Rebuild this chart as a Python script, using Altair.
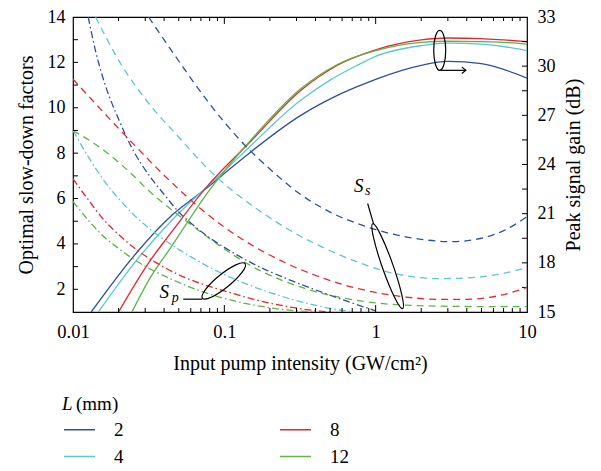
import altair as alt
import pandas as pd

FONT = "Liberation Serif"
W, H = 454, 295

L_LABELS = ["2", "4", "8", "12"]
COLORS = ["#2e4f9e", "#5bc5da", "#e8262b", "#5cb445"]

# ---- Peak signal gain (dB), solid lines, right axis ----
GAIN_X_2 = [0.0132, 0.0264, 0.045, 0.075, 0.1, 0.142, 0.318, 0.6, 1, 2, 3, 5, 7, 10]
GAIN_Y_2 = [15, 18.63, 20.9, 22.5, 23.45, 24.6, 26.98, 28.35, 29.2, 30.05, 30.29, 30.15, 29.8, 29.27]
GAIN_X_4 = [0.0147, 0.0265, 0.045, 0.075, 0.1, 0.142, 0.318, 0.5, 0.755, 1, 2, 3, 5, 7, 10]
GAIN_Y_4 = [15, 18.2, 20.6, 22.55, 23.6, 24.95, 27.9, 29.15, 30.05, 30.6, 31.25, 31.4, 31.35, 31.2, 30.95]
GAIN_X_8 = [0.02, 0.0316, 0.045, 0.0767, 0.1, 0.142, 0.318, 0.571, 1, 2, 3, 5, 7, 10]
GAIN_Y_8 = [15, 18.0, 19.9, 22.65, 23.8, 25.2, 28.5, 30.1, 31.0, 31.6, 31.72, 31.68, 31.6, 31.5]
GAIN_X_12 = [0.0245, 0.0324, 0.044, 0.0807, 0.1, 0.142, 0.318, 0.571, 1, 2, 3, 5, 7, 10]
GAIN_Y_12 = [15, 17.1, 18.9, 22.5, 23.6, 25.25, 28.6, 30.15, 30.95, 31.45, 31.52, 31.5, 31.45, 31.35]

# ---- S_s optimal slow-down factor, dashed, left axis ----
SS_X_2 = [0.0316, 0.0501, 0.0794, 0.126, 0.2, 0.316, 0.501, 0.794, 1.26, 2.0, 3.16, 5.01, 7.08, 10]
SS_Y_2 = [14, 12.05, 10.2, 8.6, 7.3, 6.2, 5.4, 4.85, 4.45, 4.2, 4.1, 4.25, 4.6, 5.2]
SS_X_4 = [0.0141, 0.02, 0.0316, 0.0501, 0.0794, 0.126, 0.2, 0.316, 0.501, 0.794, 1.0,
          1.58, 2.51, 3.98, 6.31, 10]
SS_Y_4 = [14, 12.1, 10.2, 8.7, 7.25, 6.1, 5.15, 4.35, 3.7, 3.15, 2.92, 2.6, 2.47, 2.5,
          2.65, 2.95]
SS_X_8 = [0.01, 0.0158, 0.0251, 0.0398, 0.0631, 0.1, 0.158, 0.251, 0.398, 0.631, 1.0,
          1.58, 2.51, 3.98, 6.31, 10]
SS_Y_8 = [11.26, 9.82, 8.4, 7.04, 5.8, 4.74, 3.88, 3.18, 2.62, 2.18, 1.86, 1.66, 1.56,
          1.56, 1.7, 2.08]
SS_X_12 = [0.01, 0.0126, 0.0158, 0.02, 0.0251, 0.0316, 0.0398, 0.0501, 0.0631, 0.0794, 0.1,
           0.158, 0.251, 0.398, 0.631, 1.0, 1.58, 2.51, 5.01, 10]
SS_Y_12 = [8.99, 8.6, 8.15, 7.6, 7.0, 6.35, 5.78, 5.25, 4.75, 4.25, 3.78, 2.95, 2.35,
           1.9, 1.6, 1.4, 1.3, 1.26, 1.24, 1.24]

# ---- S_p optimal slow-down factor, dash-dot, left axis ----
SP_X_2 = [0.0126, 0.0141, 0.0158, 0.02, 0.0251, 0.0316, 0.0398, 0.0501, 0.0631, 0.0794, 0.1,
          0.126, 0.158, 0.251, 0.398, 0.631, 1.0]
SP_Y_2 = [14, 12.5, 11.3, 9.5, 8.1, 7.05, 6.2, 5.4, 4.8, 4.28, 3.85, 3.45, 3.1, 2.5,
          1.98, 1.5, 1.05]
SP_X_4 = [0.01, 0.0126, 0.0158, 0.02, 0.0251, 0.0316, 0.0398, 0.0501, 0.0631, 0.0794, 0.1,
          0.158, 0.251, 0.398, 0.631, 0.794]
SP_Y_4 = [9.0, 7.85, 6.85, 6.0, 5.3, 4.7, 4.2, 3.75, 3.35, 2.98, 2.65, 2.1, 1.65, 1.3,
          1.05, 1.0]
SP_X_8 = [0.01, 0.0126, 0.0158, 0.02, 0.0251, 0.0316, 0.0398, 0.0501, 0.0631, 0.0794, 0.1,
          0.158, 0.251, 0.398, 0.501]
SP_Y_8 = [6.87, 5.95, 5.1, 4.42, 3.85, 3.38, 2.98, 2.64, 2.36, 2.13, 1.93, 1.55, 1.26,
          1.06, 1.0]
SP_X_12 = [0.01, 0.0126, 0.0158, 0.02, 0.0251, 0.0316, 0.0398, 0.0501, 0.0631, 0.0794, 0.1,
           0.158, 0.251, 0.398]
SP_Y_12 = [5.87, 5.05, 4.35, 3.8, 3.33, 2.93, 2.6, 2.3, 2.03, 1.8, 1.6, 1.3, 1.1, 1.0]

# ---- axis ticks ----
X_LABELS = [0.01, 0.1, 1, 10]
LEFT_LABELS = [2, 4, 6, 8, 10, 12, 14]
RIGHT_LABELS = [15, 18, 21, 24, 27, 30, 33]
LEFT_TICKS = [2, 3, 4, 5, 6, 7, 8, 9, 10, 11, 12, 13]
RIGHT_TICKS = [16.5, 18, 19.5, 21, 22.5, 24, 25.5, 27, 28.5, 30, 31.5]
X_MAJOR = [0.1, 1]
X_MINOR = [0.02, 0.03, 0.04, 0.05, 0.06, 0.07, 0.08, 0.09,
           0.2, 0.3, 0.4, 0.5, 0.6, 0.7, 0.8, 0.9,
           2, 3, 4, 5, 6, 7, 8, 9]


def series(xs_list, ys_list, key):
    rows = []
    for lab, xs, ys in zip(L_LABELS, xs_list, ys_list):
        for x, y in zip(xs, ys):
            rows.append({"x": x, key: y, "L": lab})
    return pd.DataFrame(rows)


gain_df = series([GAIN_X_2, GAIN_X_4, GAIN_X_8, GAIN_X_12],
                 [GAIN_Y_2, GAIN_Y_4, GAIN_Y_8, GAIN_Y_12], "g")
ss_df = series([SS_X_2, SS_X_4, SS_X_8, SS_X_12],
               [SS_Y_2, SS_Y_4, SS_Y_8, SS_Y_12], "v")
sp_df = series([SP_X_2, SP_X_4, SP_X_8, SP_X_12],
               [SP_Y_2, SP_Y_4, SP_Y_8, SP_Y_12], "v")

x_enc = alt.X(
    "x:Q",
    scale=alt.Scale(type="log", domain=[0.01, 10], nice=False),
    axis=alt.Axis(values=X_LABELS, format="~g", title="Input pump intensity (GW/cm²)",
                  ticks=False, domain=False, grid=False, labelFontSize=18.5,
                  titleFontSize=20, labelPadding=10, titlePadding=13,
                  labelFlush=False, labelOverlap=False),
)
yl = alt.Y(
    "v:Q",
    scale=alt.Scale(domain=[1, 14], nice=False, zero=False),
    axis=alt.Axis(values=LEFT_LABELS, orient="left", title="Optimal slow-down factors",
                  ticks=False, domain=False, grid=False, labelFontSize=18,
                  titleFontSize=20, labelPadding=8, titlePadding=11),
)
yr = alt.Y(
    "g:Q",
    scale=alt.Scale(domain=[15, 33], nice=False, zero=False),
    axis=alt.Axis(values=RIGHT_LABELS, orient="right", title="Peak signal gain (dB)",
                  ticks=False, domain=False, grid=False, labelFontSize=18,
                  titleFontSize=20, labelPadding=10, titlePadding=8, titleAngle=270,
                  titleBaseline="top"),
)
color = alt.Color(
    "L:N",
    scale=alt.Scale(domain=L_LABELS, range=COLORS),
    legend=alt.Legend(orient="none", legendX=-10, legendY=396, columns=2, title=None,
                      symbolType="stroke", symbolSize=961, symbolStrokeWidth=1.5,
                      labelFontSize=19, labelOffset=18, columnPadding=144,
                      rowPadding=-4, gridAlign="all", padding=0),
)

gain = alt.Chart(gain_df).mark_line(strokeWidth=1.3, clip=True, interpolate="monotone").encode(
    x=x_enc, y=yr, color=color)
right_ticks = alt.Chart(pd.DataFrame({"g": RIGHT_TICKS})).mark_rule(color="black").encode(
    x=alt.value(W), x2=alt.value(W - 5), y=yr)
right_group = alt.layer(gain, right_ticks)

ss = alt.Chart(ss_df).mark_line(strokeWidth=1.3, strokeDash=[7, 5], clip=True,
                                interpolate="monotone").encode(x=x_enc, y=yl, color=color)
sp = alt.Chart(sp_df).mark_line(strokeWidth=1.3, strokeDash=[7, 3, 1.5, 3], clip=True,
                                interpolate="monotone").encode(x=x_enc, y=yl, color=color)
left_ticks = alt.Chart(pd.DataFrame({"v": LEFT_TICKS})).mark_rule(color="black").encode(
    x=alt.value(0), x2=alt.value(5), y=yl)
minor_df = pd.DataFrame({"x": X_MINOR})
major_df = pd.DataFrame({"x": X_MAJOR})
bot_minor = alt.Chart(minor_df).mark_rule(color="black").encode(
    x=x_enc, y=alt.value(H), y2=alt.value(H - 4))
top_minor = alt.Chart(minor_df).mark_rule(color="black").encode(
    x=x_enc, y=alt.value(0), y2=alt.value(4))
bot_major = alt.Chart(major_df).mark_rule(color="black").encode(
    x=x_enc, y=alt.value(H), y2=alt.value(H - 7))
top_major = alt.Chart(major_df).mark_rule(color="black").encode(
    x=x_enc, y=alt.value(0), y2=alt.value(7))


def ellipse_path(a):
    k = 0.5523
    return (f"M0,-1C{k*a:.4f},-1,{a:.4f},{-k:.4f},{a:.4f},0"
            f"C{a:.4f},{k:.4f},{k*a:.4f},1,0,1"
            f"C{-k*a:.4f},1,{-a:.4f},{k:.4f},{-a:.4f},0"
            f"C{-a:.4f},{-k:.4f},{-k*a:.4f},-1,0,-1Z")


def ellipse(x, v, length, ratio, angle):
    return alt.Chart(pd.DataFrame({"x": [x], "v": [v]})).mark_point(
        shape=ellipse_path(ratio), size=length * length, angle=angle, filled=False,
        stroke="black", strokeWidth=1.2, opacity=1).encode(x=x_enc, y=yl)


def seg(x1, v1, x2, v2):
    return alt.Chart(pd.DataFrame({"x": [x1], "x2": [x2], "v": [v1], "v2": [v2]})).mark_rule(
        color="black", strokeWidth=1.2).encode(x=x_enc, x2="x2:Q", y=yl, y2="v2:Q")


def label(x, v, text, size):
    return alt.Chart(pd.DataFrame({"x": [x], "v": [v], "t": [text]})).mark_text(
        font=FONT, fontStyle="italic", fontSize=size, color="black").encode(
        x=x_enc, y=yl, text="t:N")


ell_gain = ellipse(2.65, 12.53, 40, 0.3, 0)
arrow_line = seg(2.695, 11.65, 3.945, 11.65)
arrow_head = alt.Chart(pd.DataFrame({"x": [3.945], "v": [11.65]})).mark_point(
    shape="M-1,-0.8L0,0L-1,0.8", size=64, filled=False, stroke="black",
    strokeWidth=1.2, opacity=1).encode(x=x_enc, y=yl)
ell_ss = ellipse(1.2, 3.02, 90, 0.12, 340.6)
line_ss = seg(0.885, 5.78, 0.97, 4.87)
lab_ss_S = label(0.772, 6.57, "S", 19)
lab_ss_s = label(0.885, 6.33, "s", 14)
ell_sp = ellipse(0.0992, 2.37, 55, 0.25, 50.9)
line_sp = seg(0.0535, 1.565, 0.0715, 1.565)
lab_sp_S = label(0.0401, 1.87, "S", 19)
lab_sp_p = label(0.0474, 1.62, "p", 14)

one = pd.DataFrame({"t": [0]})
leg_L = alt.Chart(one).mark_text(font=FONT, fontStyle="italic", fontSize=19, align="left",
                                 baseline="middle", color="black").encode(
    x=alt.value(-11), y=alt.value(387), text=alt.value("L"))
leg_mm = alt.Chart(one).mark_text(font=FONT, fontSize=19, align="left",
                                  baseline="middle", color="black").encode(
    x=alt.value(3), y=alt.value(387), text=alt.value("(mm)"))

left_group = alt.layer(ss, sp, left_ticks, bot_minor, top_minor, bot_major, top_major,
                       ell_gain, arrow_line, arrow_head, ell_ss, line_ss, lab_ss_S, lab_ss_s,
                       ell_sp, line_sp, lab_sp_S, lab_sp_p, leg_L, leg_mm)

chart = alt.layer(right_group, left_group).resolve_scale(y="independent").properties(
    width=W, height=H,
    padding={"left": 65, "top": 9, "right": 66, "bottom": 159},
    autosize=alt.AutoSizeParams(type="none"),
    background="white",
).configure_axis(
    labelFont=FONT, titleFont=FONT, labelColor="black", titleColor="black",
    titleFontWeight="normal",
).configure_legend(labelFont=FONT, labelColor="black").configure_view(
    stroke="black", strokeWidth=1.2)

chart.save("out.html", embed_options={"renderer": "svg", "actions": False})
